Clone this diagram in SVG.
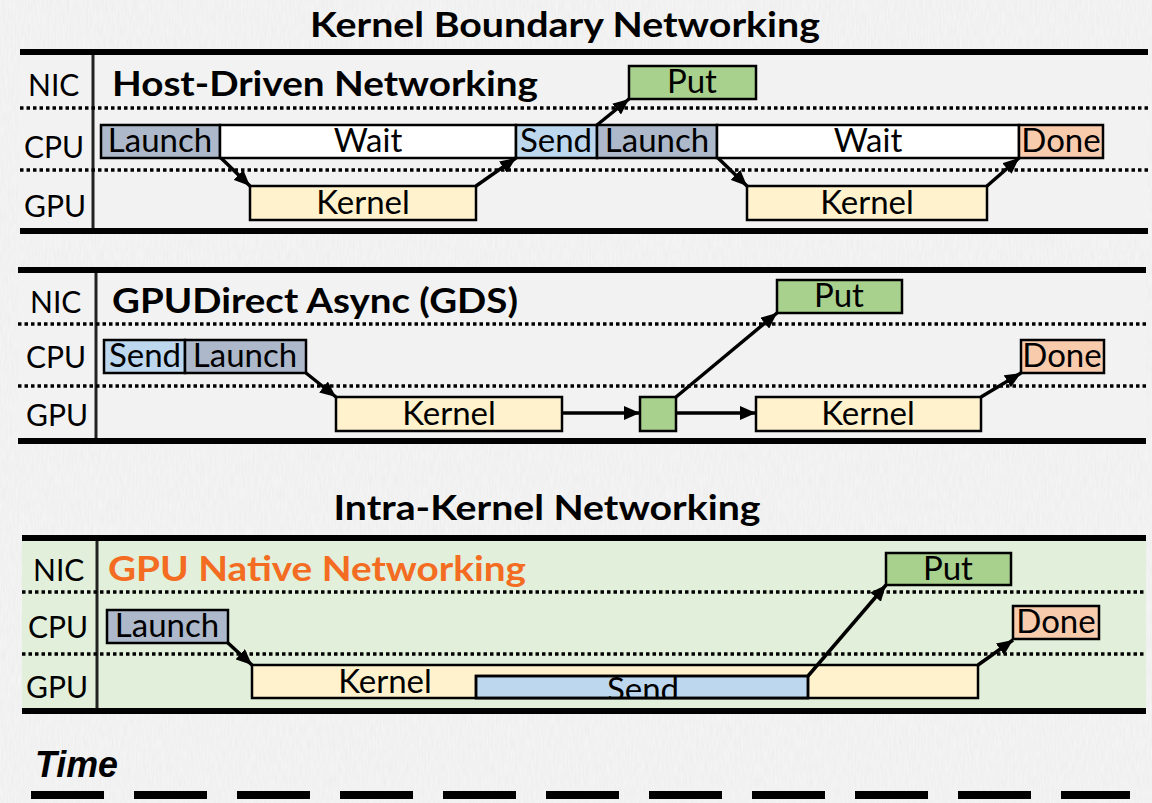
<svg xmlns="http://www.w3.org/2000/svg" width="1152" height="803" viewBox="0 0 1152 803">
  <defs>
    <style>
      .lbl { font-family: Lato, "Open Sans", "Liberation Sans", sans-serif; font-size: 30px; fill: #000; }
      .box { font-family: Lato, "Open Sans", "Liberation Sans", sans-serif; font-size: 33px; fill: #000; text-anchor: middle; }
      .ttl { font-family: Lato, "Open Sans", "Liberation Sans", sans-serif; font-size: 35px; font-weight: bold; fill: #000; }
      .rule { stroke: #000; stroke-width: 6; }
      .axis { stroke: #222; stroke-width: 3; }
      .dots { stroke: #000; stroke-width: 3.5; stroke-dasharray: 3.5 3; }
      .b { stroke: #000; stroke-width: 2.5; }
      .launch { fill: #adb9ca; }
      .send { fill: #bdd7ee; }
      .wait { fill: #ffffff; }
      .done { fill: #f8cbad; }
      .put { fill: #a9d18e; }
      .kernel { fill: #fff2cc; }
      .arrow { stroke: #000; stroke-width: 3.5; fill: none; marker-end: url(#head); }
    </style>
    <marker id="head" markerUnits="userSpaceOnUse" markerWidth="17" markerHeight="14" refX="16" refY="7" orient="auto">
      <path d="M0,0 L16,7 L0,14 z" fill="#000"/>
    </marker>
    <filter id="grain" x="0" y="0" width="100%" height="100%">
      <feTurbulence type="fractalNoise" baseFrequency="0.6 0.08" numOctaves="2" seed="4"/>
      <feColorMatrix type="matrix" values="0 0 0 0 0.55  0 0 0 0 0.55  0 0 0 0 0.55  0 0 0 0.45 -0.12"/>
    </filter>
    <clipPath id="sendClip">
      <rect x="476" y="676" width="332" height="22"/>
    </clipPath>
  </defs>

  <!-- page background -->
  <rect width="1152" height="803" fill="#f4f4f4"/>
  <rect width="1152" height="803" filter="url(#grain)" opacity="0.5"/>

  <!-- section heading -->
  <text class="ttl" x="565" y="37" text-anchor="middle" textLength="510" lengthAdjust="spacingAndGlyphs">Kernel Boundary Networking</text>

  <!-- ===== Host-Driven Networking ===== -->
  <g id="panel-host">
    <rect x="20" y="55" width="1128" height="174" fill="#f2f2f2"/>
    <line class="rule" x1="20" y1="52" x2="1148" y2="52"/>
    <line class="rule" x1="20" y1="231" x2="1148" y2="231"/>
    <line class="axis" x1="93" y1="55" x2="93" y2="228"/>
    <line class="dots" x1="20" y1="108" x2="1148" y2="108"/>
    <line class="dots" x1="20" y1="170" x2="1148" y2="170"/>
    <text class="lbl" x="28" y="96">NIC</text>
    <text class="lbl" x="24" y="158">CPU</text>
    <text class="lbl" x="24" y="217">GPU</text>
    <text class="ttl" x="112" y="96" textLength="426" lengthAdjust="spacingAndGlyphs">Host-Driven Networking</text>
  </g>
  <g id="h-launch1"><rect class="b launch" x="101" y="125" width="119" height="33"/><text class="box" x="160" y="152">Launch</text></g>
  <g id="h-wait1"><rect class="b wait" x="220" y="125" width="296" height="33"/><text class="box" x="368" y="152">Wait</text></g>
  <g id="h-send"><rect class="b send" x="516" y="125" width="81" height="33"/><text class="box" x="556" y="152">Send</text></g>
  <g id="h-launch2"><rect class="b launch" x="597" y="125" width="120" height="33"/><text class="box" x="657" y="152">Launch</text></g>
  <g id="h-wait2"><rect class="b wait" x="717" y="125" width="302" height="33"/><text class="box" x="868" y="152">Wait</text></g>
  <g id="h-done"><rect class="b done" x="1019" y="125" width="84" height="33"/><text class="box" x="1061" y="152">Done</text></g>
  <g id="h-put"><rect class="b put" x="629" y="66" width="127" height="33"/><text class="box" x="692" y="93">Put</text></g>
  <g id="h-kernel1"><rect class="b kernel" x="250" y="186" width="226" height="34"/><text class="box" x="363" y="214">Kernel</text></g>
  <g id="h-kernel2"><rect class="b kernel" x="747" y="186" width="240" height="34"/><text class="box" x="867" y="214">Kernel</text></g>

  <!-- ===== GPUDirect Async ===== -->
  <g id="panel-gds">
    <rect x="18" y="273" width="1128" height="165" fill="#f2f2f2"/>
    <line class="rule" x1="18" y1="270" x2="1146" y2="270"/>
    <line class="rule" x1="18" y1="441" x2="1146" y2="441"/>
    <line class="axis" x1="96" y1="273" x2="96" y2="438"/>
    <line class="dots" x1="18" y1="324" x2="1146" y2="324"/>
    <line class="dots" x1="18" y1="386" x2="1146" y2="386"/>
    <text class="lbl" x="30" y="313">NIC</text>
    <text class="lbl" x="26" y="368">CPU</text>
    <text class="lbl" x="26" y="426">GPU</text>
    <text class="ttl" x="112" y="313" textLength="406" lengthAdjust="spacingAndGlyphs">GPUDirect Async (GDS)</text>
  </g>
  <g id="g-send"><rect class="b send" x="104" y="340" width="81" height="33"/><text class="box" x="145" y="367">Send</text></g>
  <g id="g-launch"><rect class="b launch" x="185" y="340" width="121" height="33"/><text class="box" x="245" y="367">Launch</text></g>
  <g id="g-put"><rect class="b put" x="777" y="280" width="125" height="33"/><text class="box" x="839" y="307">Put</text></g>
  <g id="g-done"><rect class="b done" x="1021" y="340" width="83" height="33"/><text class="box" x="1062" y="367">Done</text></g>
  <g id="g-kernel1"><rect class="b kernel" x="336" y="397" width="226" height="34"/><text class="box" x="449" y="425">Kernel</text></g>
  <g id="g-trigger"><rect class="b put" x="640" y="397" width="36" height="34"/></g>
  <g id="g-kernel2"><rect class="b kernel" x="756" y="397" width="225" height="34"/><text class="box" x="868" y="425">Kernel</text></g>

  <!-- section heading -->
  <text class="ttl" x="547" y="520" text-anchor="middle" textLength="427" lengthAdjust="spacingAndGlyphs">Intra-Kernel Networking</text>

  <!-- ===== GPU Native Networking ===== -->
  <g id="panel-native">
    <rect x="22" y="541" width="1124" height="167" fill="#e2efda"/>
    <line class="rule" x1="22" y1="538" x2="1146" y2="538"/>
    <line class="rule" x1="22" y1="711" x2="1146" y2="711"/>
    <line class="axis" x1="97" y1="541" x2="97" y2="708"/>
    <line class="dots" x1="22" y1="592" x2="1146" y2="592"/>
    <line class="dots" x1="22" y1="654" x2="1146" y2="654"/>
    <text class="lbl" x="33" y="581">NIC</text>
    <text class="lbl" x="28" y="638">CPU</text>
    <text class="lbl" x="26" y="698">GPU</text>
    <text class="ttl" x="108" y="581" style="fill:#f36c21" textLength="418" lengthAdjust="spacingAndGlyphs">GPU Native Networking</text>
  </g>
  <g id="n-launch"><rect class="b launch" x="107" y="610" width="121" height="33"/><text class="box" x="167" y="637">Launch</text></g>
  <g id="n-put"><rect class="b put" x="886" y="553" width="125" height="32"/><text class="box" x="948" y="580">Put</text></g>
  <g id="n-done"><rect class="b done" x="1013" y="606" width="86" height="33"/><text class="box" x="1056" y="633">Done</text></g>
  <g id="n-kernel"><rect class="b kernel" x="252" y="665" width="726" height="33"/><text class="box" x="385" y="693">Kernel</text></g>
  <g id="n-send"><rect class="b send" x="476" y="676" width="332" height="22"/><text class="box" x="643" y="701" clip-path="url(#sendClip)">Send</text><rect x="476" y="676" width="332" height="22" fill="none" stroke="#000" stroke-width="2.5"/></g>

  <!-- connectors -->
  <g id="connectors">
    <line class="arrow" x1="221" y1="158" x2="250" y2="186"/>
    <line class="arrow" x1="476" y1="186" x2="516" y2="158"/>
    <line class="arrow" x1="597" y1="125" x2="629" y2="99"/>
    <line class="arrow" x1="718" y1="158" x2="747" y2="186"/>
    <line class="arrow" x1="987" y1="186" x2="1019" y2="158"/>

    <line class="arrow" x1="306" y1="373" x2="336" y2="397"/>
    <line class="arrow" x1="562" y1="413" x2="640" y2="413"/>
    <line class="arrow" x1="676" y1="413" x2="756" y2="413"/>
    <line class="arrow" x1="676" y1="397" x2="777" y2="313"/>
    <line class="arrow" x1="981" y1="397" x2="1021" y2="373"/>

    <line class="arrow" x1="228" y1="643" x2="252" y2="665"/>
    <line class="arrow" x1="808" y1="676" x2="886" y2="585"/>
    <line class="arrow" x1="978" y1="665" x2="1013" y2="640"/>
  </g>

  <!-- time axis -->
  <text x="35" y="777" font-family="'Liberation Sans Narrow', 'Liberation Sans', Arial, sans-serif" font-size="36" font-weight="bold" font-style="italic" textLength="83" lengthAdjust="spacingAndGlyphs">Time</text>
  <line x1="31" y1="795" x2="1130" y2="795" stroke="#000" stroke-width="8" stroke-dasharray="73 30"/>
</svg>
